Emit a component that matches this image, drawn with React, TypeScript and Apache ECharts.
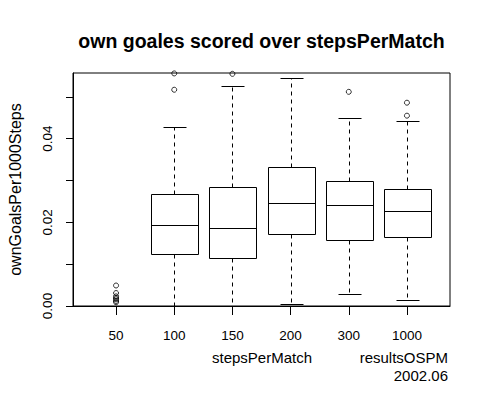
import React, { useEffect, useRef } from "react";
import * as echarts from "echarts";

const categories = ["50", "100", "150", "200", "300", "1000"];
const lowWhisker = [0, 0, 0, 0.0004, 0.0028, 0.0014];
const q1 = [0, 0.0124, 0.0114, 0.0172, 0.0157, 0.0164];
const median = [0, 0.0194, 0.0186, 0.0246, 0.0241, 0.0227];
const q3 = [0, 0.0267, 0.0284, 0.0332, 0.0298, 0.0279];
const highWhisker = [0, 0.0427, 0.0526, 0.0544, 0.0449, 0.0442];
const outliers: number[][] = [
  [0.0049, 0.0031, 0.0023, 0.0019, 0.0016, 0.0012, 0.0009],
  [0.0556, 0.0517],
  [0.0555],
  [],
  [0.0512],
  [0.0486, 0.0455],
];
const yTicks = [0, 0.01, 0.02, 0.03, 0.04, 0.05];
const yLabels = [0, 0.02, 0.04];

const FONT = "'Liberation Sans', Arial, sans-serif";

export default function App() {
  const ref = useRef<HTMLDivElement>(null);
  useEffect(() => {
    if (!ref.current) return;
    const chart = echarts.init(ref.current, null, { renderer: "svg" });
    const positions = categories.map((_, i) => i + 1);
    const boxData = categories.map((_, i) => [
      i + 1,
      lowWhisker[i],
      q1[i],
      median[i],
      q3[i],
      highWhisker[i],
    ]);
    const outData: number[][] = [];
    outliers.forEach((arr, i) => arr.forEach((v) => outData.push([i + 1, v])));
    const px = (v: number) => Math.round(v) + 0.5;

    chart.setOption({
      animation: false,
      backgroundColor: "#fff",
      grid: {
        left: 73,
        right: 38,
        top: 73,
        bottom: 92,
        show: true,
        borderColor: "#000",
        borderWidth: 1,
        backgroundColor: "transparent",
      },
      xAxis: {
        type: "value",
        min: 0.26,
        max: 6.74,
        splitLine: { show: false },
        axisLine: { show: true, lineStyle: { color: "#000", width: 1 } },
        axisTick: {
          show: true,
          length: 9,
          customValues: positions,
          lineStyle: { color: "#000" },
        },
        axisLabel: {
          customValues: positions,
          formatter: (v: number) => categories[Math.round(v) - 1] ?? "",
          color: "#000",
          fontFamily: FONT,
          fontSize: 13.5,
          margin: 22,
        },
      },
      yAxis: {
        type: "value",
        min: 0,
        max: 0.0557,
        splitLine: { show: false },
        axisLine: { show: true, lineStyle: { color: "#000", width: 1 } },
        axisTick: {
          show: true,
          length: 7,
          customValues: yTicks,
          lineStyle: { color: "#000" },
        },
        axisLabel: {
          customValues: yLabels,
          formatter: (v: number) => v.toFixed(2),
          rotate: 90,
          color: "#000",
          fontFamily: FONT,
          fontSize: 13.5,
          margin: 19,
        },
      },
      graphic: [
        {
          type: "text",
          x: 261.5,
          y: 40.5,
          style: {
            text: "own goales scored over stepsPerMatch",
            fill: "#000",
            font: `bold 19.5px ${FONT}`,
            textAlign: "center",
            textVerticalAlign: "middle",
          },
        },
        {
          type: "text",
          x: 262,
          y: 357,
          style: {
            text: "stepsPerMatch",
            fill: "#000",
            font: `15px ${FONT}`,
            textAlign: "center",
            textVerticalAlign: "middle",
          },
        },
        {
          type: "text",
          x: 448,
          y: 357,
          style: {
            text: "resultsOSPM",
            fill: "#000",
            font: `15px ${FONT}`,
            textAlign: "right",
            textVerticalAlign: "middle",
          },
        },
        {
          type: "text",
          x: 448,
          y: 375.5,
          style: {
            text: "2002.06",
            fill: "#000",
            font: `15px ${FONT}`,
            textAlign: "right",
            textVerticalAlign: "middle",
          },
        },
        {
          type: "text",
          x: 15,
          y: 189.5,
          rotation: Math.PI / 2,
          style: {
            text: "ownGoalsPer1000Steps",
            fill: "#000",
            font: `16px ${FONT}`,
            textAlign: "center",
            textVerticalAlign: "middle",
          },
        },
      ],
      series: [
        {
          type: "custom",
          data: boxData,
          encode: { x: 0, y: [1, 2, 3, 4, 5] },
          renderItem: (params: any, api: any) => {
            const x = api.value(0);
            const lo = api.coord([x, api.value(1)]);
            const b1 = api.coord([x, api.value(2)]);
            const md = api.coord([x, api.value(3)]);
            const b3 = api.coord([x, api.value(4)]);
            const hi = api.coord([x, api.value(5)]);
            const unit = api.size([1, 0])[0];
            const bw = unit * 0.8;
            const cw = unit * 0.4;
            const cx = px(b1[0]);
            const stroke = { stroke: "#000", lineWidth: 1, fill: "none" };
            const dashed = { stroke: "#000", lineWidth: 1, lineDash: [4, 4], fill: "none" };
            const yLo = px(lo[1]), yB1 = px(b1[1]), yMd = px(md[1]), yB3 = px(b3[1]), yHi = px(hi[1]);
            const bl = px(cx - bw / 2), br = px(cx + bw / 2);
            const cl = px(cx - cw / 2), cr = px(cx + cw / 2);
            return {
              type: "group",
              children: [
                { type: "line", shape: { x1: cx, y1: yB3, x2: cx, y2: yHi }, style: dashed },
                { type: "line", shape: { x1: cx, y1: yB1, x2: cx, y2: yLo }, style: dashed },
                { type: "line", shape: { x1: cl, y1: yHi, x2: cr, y2: yHi }, style: stroke },
                { type: "line", shape: { x1: cl, y1: yLo, x2: cr, y2: yLo }, style: stroke },
                {
                  type: "rect",
                  shape: { x: bl, y: yB3, width: br - bl, height: yB1 - yB3 },
                  style: stroke,
                },
                { type: "line", shape: { x1: bl, y1: yMd, x2: br, y2: yMd }, style: stroke },
              ],
            };
          },
        },
        {
          type: "scatter",
          data: outData,
          symbol: "circle",
          symbolSize: 5,
          clip: false,
          itemStyle: { color: "transparent", borderColor: "#000", borderWidth: 1 },
        },
      ],
    });
    return () => chart.dispose();
  }, []);
  return (
    <div
      ref={ref}
      style={{ position: "fixed", left: 0, top: 0, width: 488, height: 398 }}
    />
  );
}
